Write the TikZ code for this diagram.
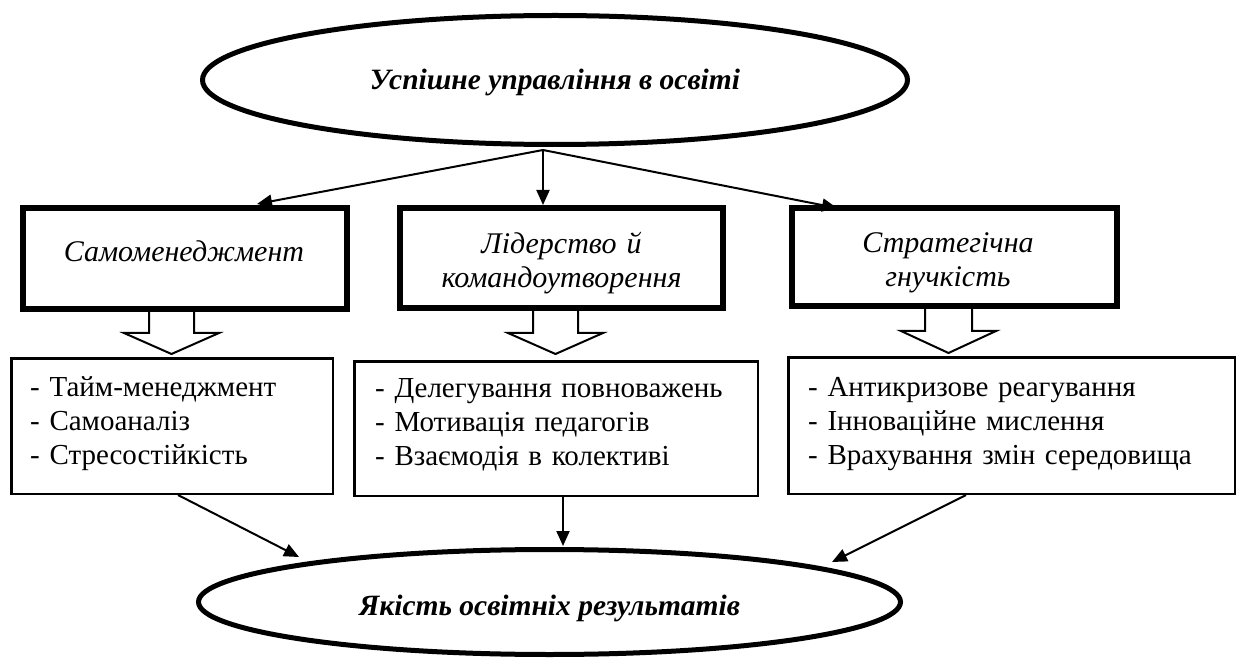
\documentclass[tikz,border=0pt]{standalone}
\usepackage{fontspec}
\setmainfont{Liberation Serif}
\usetikzlibrary{shapes.geometric,arrows.meta}
\begin{document}
\begin{tikzpicture}[x=1pt,y=-1pt,
  ell/.style={ellipse, draw, line width=5pt, inner sep=0pt, font=\fontsize{29.5}{34}\selectfont\bfseries\itshape},
  topbox/.style={rectangle, draw, line width=6pt, inner sep=0pt},
  toptext/.style={inner sep=0pt, text width=310pt, align=center, font=\fontsize{30}{34}\selectfont\itshape},
  listbox/.style={rectangle, draw, line width=2.5pt, inner sep=0pt},
  listtext/.style={inner sep=0pt, align=left, font=\fontsize{29}{34}\selectfont},
  conn/.style={line width=2pt, -{Triangle[length=15pt,width=13pt]}},
  hollow/.style={line width=2pt, line join=miter}
]
\useasboundingbox (0,0) rectangle (1237,660);

% ellipses
\node[ell, minimum width=705pt, minimum height=129pt, text height=22pt, text depth=2pt] (top) at (555,80) {Успішне управління в освіті};
\node[ell, minimum width=702pt, minimum height=105pt, text height=26pt, text depth=0pt] (bot) at (549.5,602) {Якість освітніх результатів};

% top boxes
\node[topbox, minimum width=324pt, minimum height=101pt] (b1) at (185,258.5) {};
\node[topbox, minimum width=323pt, minimum height=100pt] (b2) at (561.5,258) {};
\node[topbox, minimum width=325pt, minimum height=98pt] (b3) at (954.5,257) {};
\node[toptext, anchor=base] (b1t) at (184,262) {Самоменеджмент};
\node[toptext, anchor=base] (b2t) at (561.5,254) {Лідерство й\\командоутворення};
\node[toptext, anchor=base] (b3t) at (948,253) {Стратегічна\\гнучкість};

% list boxes
\node[listbox, minimum width=321.5pt, minimum height=135.5pt] (la) at (172,426) {};
\node[listbox, minimum width=403.5pt, minimum height=134.5pt] (lb) at (556,428.5) {};
\node[listbox, minimum width=446.5pt, minimum height=136.5pt] (lc) at (1011.5,425.5) {};
\node[listtext, text width=295pt, anchor=base west] (lat) at (30,396) {- Тайм-менеджмент\\- Самоаналіз\\- Стресостійкість};
\node[listtext, text width=375pt, anchor=base west] (lbt) at (375,397) {- Делегування повноважень\\- Мотивація педагогів\\- Взаємодія в колективі};
\node[listtext, text width=420pt, anchor=base west] (lct) at (808,396) {- Антикризове реагування\\- Інноваційне мислення\\- Врахування змін середовища};

% connectors from top ellipse
\coordinate (src) at (543,150);
\coordinate (t1) at (257,204);
\coordinate (t2) at (543,205);
\coordinate (t3) at (837,208);
\draw[conn] (src) -- (t1);
\draw[conn] (src) -- (t2);
\draw[conn] (src) -- (t3);

% hollow block arrows
\coordinate (h1) at (171.5,312);
\coordinate (h2) at (555.5,311);
\coordinate (h3) at (948.5,309);
\draw[hollow] (h1) ++(-22.5,0) -- ++(0,21) -- ++(-25,0) -- ++(47.5,21) -- ++(47.5,-21) -- ++(-25,0) -- ++(0,-21);
\draw[hollow] (h2) ++(-22.5,0) -- ++(0,22) -- ++(-25,0) -- ++(47.5,21) -- ++(47.5,-21) -- ++(-25,0) -- ++(0,-22);
\draw[hollow] (h3) ++(-23.5,0) -- ++(0,22) -- ++(-24,0) -- ++(47.5,22) -- ++(47.5,-22) -- ++(-24,0) -- ++(0,-22);

% connectors to bottom ellipse
\coordinate (sa) at (178,495);
\coordinate (ea) at (299,557);
\coordinate (sb) at (563,497);
\coordinate (eb) at (563,546);
\coordinate (sc) at (966,495);
\coordinate (ec) at (832,562);
\draw[conn] (sa) -- (ea);
\draw[conn] (sb) -- (eb);
\draw[conn] (sc) -- (ec);
\end{tikzpicture}
\end{document}
